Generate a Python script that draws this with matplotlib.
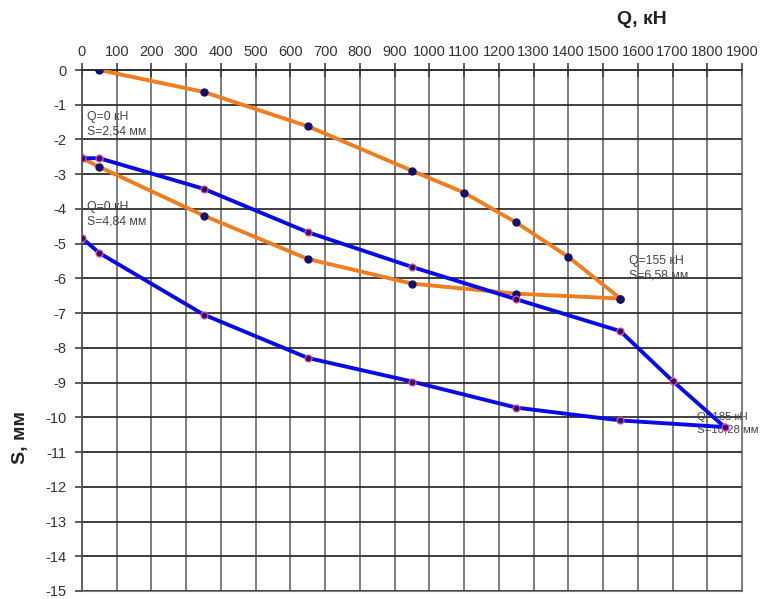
import matplotlib
matplotlib.use("Agg")
import matplotlib.pyplot as plt

plt.rcParams['font.family'] = ['Liberation Sans', 'DejaVu Sans']
plt.rcParams['axes.unicode_minus'] = False

# Cycle 1 (orange): loading and unloading
q_load1 = [50, 350, 650, 950, 1100, 1250, 1400, 1550]
s_load1 = [0.0, -0.63, -1.62, -2.90, -3.53, -4.39, -5.38, -6.58]
q_unload1 = [1550, 1250, 950, 650, 350, 50, 0]
s_unload1 = [-6.58, -6.44, -6.15, -5.44, -4.19, -2.79, -2.54]

# Cycle 2 (blue): loading and unloading
q_load2 = [0, 50, 350, 650, 950, 1250, 1550, 1700, 1850]
s_load2 = [-2.54, -2.54, -3.42, -4.67, -5.67, -6.60, -7.52, -8.95, -10.28]
q_unload2 = [1850, 1550, 1250, 950, 650, 350, 50, 0]
s_unload2 = [-10.28, -10.09, -9.72, -8.97, -8.29, -7.04, -5.27, -4.84]

x_ticks = list(range(0, 2000, 100))
y_ticks = list(range(-15, 1))

labels = [
    (14, -1.18, "Q=0 кН\nS=2,54 мм", 8.8),
    (14, -3.76, "Q=0 кН\nS=4,84 мм", 8.8),
    (1575, -5.33, "Q=155 кН\nS=6,58 мм", 8.8),
    (1770, -9.86, "Q=185 кН\nS=10,28 мм", 8.2),
]

fig = plt.figure(figsize=(7.63, 5.99), dpi=100)
ax = fig.add_axes([82/763, 1 - 591/599, 660/763, 521/599])
ax.set_xlim(0, 1900)
ax.set_ylim(-15, 0)

ax.set_xticks(x_ticks)
ax.set_yticks(y_ticks)
ax.xaxis.tick_top()
ax.tick_params(axis='x', which='both', direction='inout', length=10, width=1.2,
               color='#404040', labelsize=10.5, labelcolor='#333333', pad=3)
ax.tick_params(axis='y', which='both', direction='inout', length=10, width=1.2,
               color='#404040', labelsize=10.5, labelcolor='#333333', pad=6)

ax.grid(axis='y', color='#303030', linewidth=1.3, zorder=0)
ax.grid(axis='x', color='#5a5a5a', linewidth=1.1, zorder=0)
ax.set_axisbelow(True)

ax.spines['top'].set_color('#303030')
ax.spines['top'].set_linewidth(1.4)
ax.spines['left'].set_color('#505050')
ax.spines['left'].set_linewidth(1.2)
ax.spines['right'].set_color('#808080')
ax.spines['bottom'].set_color('#808080')

orange = '#f07d1e'
blue = '#0a0ae6'

for tx, ty, t, fs in labels:
    ax.text(tx, ty, t, fontsize=fs, color='#444444', va='top', ha='left',
            linespacing=1.3, zorder=1, clip_on=False)

mk_o = dict(marker='o', markersize=5, markerfacecolor='#10106e',
            markeredgecolor='#10106e')
mk_b = dict(marker='o', markersize=5, markerfacecolor='#401040',
            markeredgecolor='#d050d0', markeredgewidth=0.9)

ax.plot(q_load1, s_load1, color=orange, lw=2.8, zorder=3, **mk_o)
ax.plot(q_unload1, s_unload1, color=orange, lw=2.8, zorder=3, **mk_o)
ax.plot(q_load2, s_load2, color=blue, lw=2.8, zorder=4, **mk_b)
ax.plot(q_unload2, s_unload2, color=blue, lw=2.8, zorder=4, **mk_b)

fig.text(642/763, 1 - 20/599, "Q, кН", fontsize=14, fontweight='bold',
         ha='center', va='center', color='#222222')
fig.text(21/763, 1 - 438/599, "S, мм", fontsize=14, fontweight='bold',
         ha='center', va='center', rotation=90, color='#222222')

fig.savefig("out.png", dpi=100)
